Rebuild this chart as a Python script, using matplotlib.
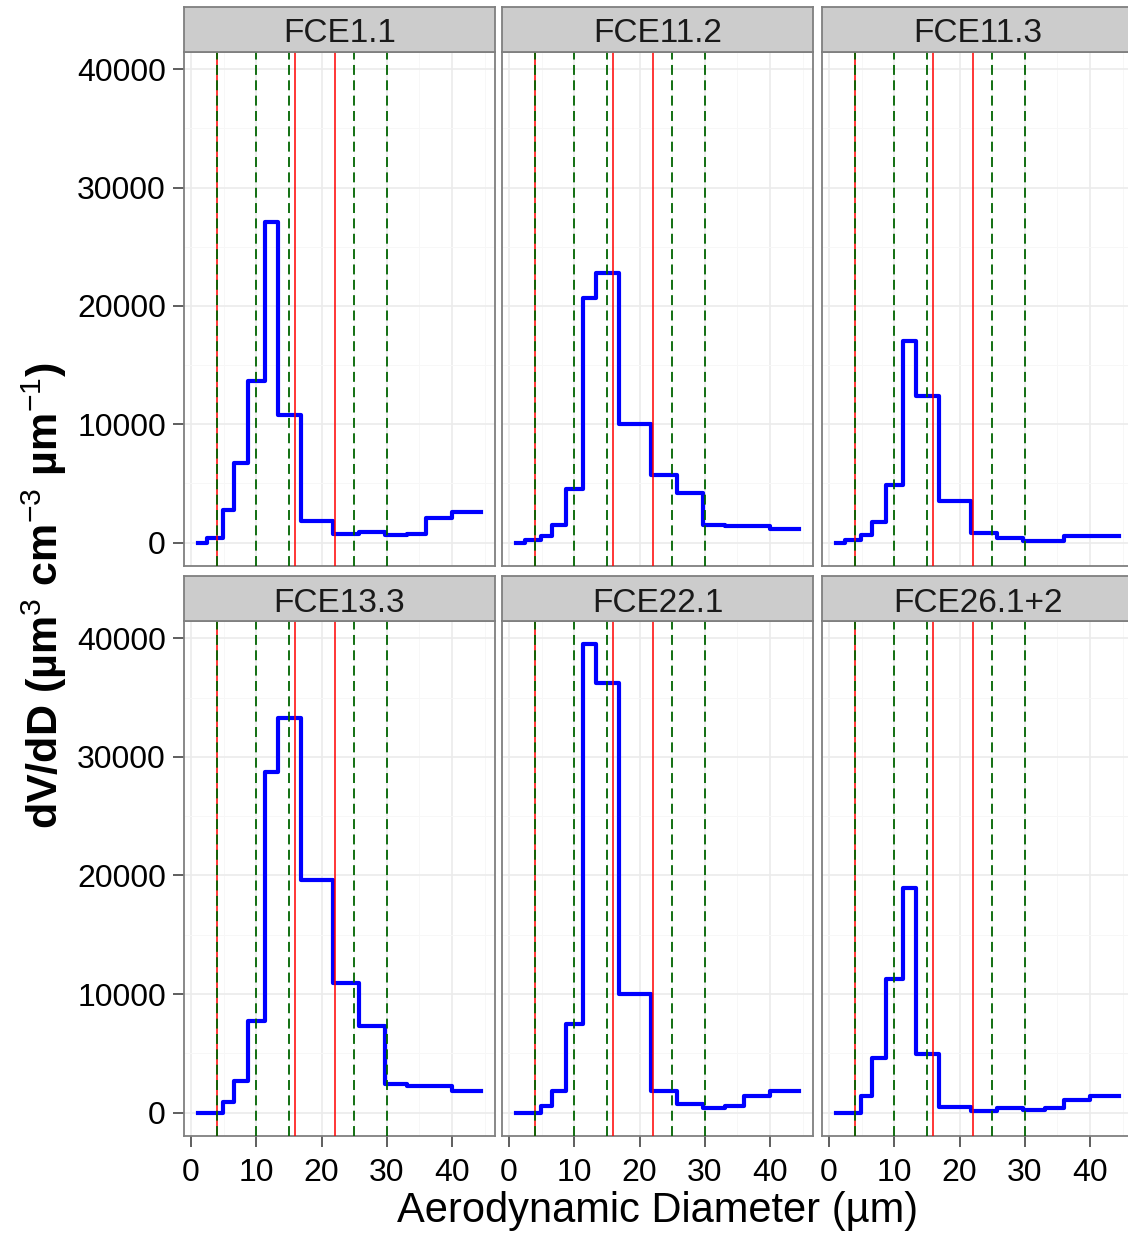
import matplotlib
matplotlib.use("Agg")
import matplotlib.pyplot as plt
import numpy as np

plt.rcParams['font.family'] = ['Liberation Sans', 'DejaVu Sans']
plt.rcParams['mathtext.fontset'] = 'custom'
plt.rcParams['mathtext.rm'] = 'Liberation Sans'
plt.rcParams['mathtext.it'] = 'Liberation Sans:italic'
plt.rcParams['mathtext.bf'] = 'Liberation Sans:bold'

# bin edges (aerodynamic diameter, um)
edges = [1.1, 2.5, 4.85, 6.65, 8.8, 11.3, 13.4, 16.9, 21.8, 25.8, 29.7, 33.1, 36.0, 40.0, 44.4]

samples = ['FCE1.1', 'FCE11.2', 'FCE11.3', 'FCE13.3', 'FCE22.1', 'FCE26.1+2']
fce1_1 = [0, 400, 2750, 6720, 13650, 27100, 10750, 1830, 700, 885, 610, 700, 2050, 2560]
fce11_2 = [0, 210, 550, 1530, 4520, 20670, 22750, 9985, 5740, 4210, 1530, 1370, 1370, 1160]
fce11_3 = [0, 210, 610, 1740, 4890, 17010, 12370, 3510, 855, 400, 150, 150, 580, 580]
fce13_3 = [0, 0, 860, 2700, 7750, 28750, 33260, 19590, 10970, 7300, 2390, 2210, 2210, 1840]
fce22_1 = [0, 0, 520, 1840, 7450, 39480, 36260, 9960, 1840, 705, 370, 520, 1380, 1840]
fce26_12 = [0, 0, 1380, 4600, 11280, 18910, 4900, 460, 150, 400, 215, 400, 1070, 1380]
series = [fce1_1, fce11_2, fce11_3, fce13_3, fce22_1, fce26_12]

red_lines = [4, 16, 22]
green_lines = [4, 10, 15, 25, 30]

W, H = 1128, 1236
fig = plt.figure(figsize=(W / 100, H / 100), dpi=100)

col_left = [184, 502, 822]
col_w = 311
rows = [(7, 52, 566), (576, 621, 1136)]

allv = np.concatenate([np.array(s) for s in series])
ymin, ymax = 0, allv.max()
ypad = 0.05 * (ymax - ymin)
xpad = 0.05 * (edges[-1] - edges[0])

border = '#7F7F7F'
for i, name in enumerate(samples):
    r, c = divmod(i, 3)
    st, sb, pb = rows[r]
    left = col_left[c]
    ax = fig.add_axes([left / W, 1 - pb / H, col_w / W, (pb - sb) / H])
    sax = fig.add_axes([left / W, 1 - sb / H, col_w / W, (sb - st) / H])

    y = list(series[i]) + [series[i][-1]]
    ax.step(edges, y, where='post', color='#0000FF', lw=3.0, zorder=3)
    for xv in red_lines:
        ax.axvline(xv, color='#FF0000', lw=1.1, zorder=4)
    for xv in green_lines:
        ax.axvline(xv, color='#006400', lw=1.3, ls=(0, (5.5, 3)), zorder=5)

    ax.set_xlim(edges[0] - xpad, edges[-1] + xpad)
    ax.set_ylim(ymin - ypad, ymax + ypad)
    ax.set_xticks([0, 10, 20, 30, 40])
    ax.set_xticks([5, 15, 25, 35, 45], minor=True)
    ax.set_yticks([0, 10000, 20000, 30000, 40000])
    ax.set_yticks([5000, 15000, 25000, 35000], minor=True)
    ax.grid(True, which='major', color='#EBEBEB', lw=1.2, zorder=0)
    ax.grid(True, which='minor', color='#F7F7F7', lw=0.7, zorder=0)
    ax.set_axisbelow(True)
    ax.tick_params(which='minor', length=0)
    ax.tick_params(which='major', length=8, width=1.1, color='#333333',
                   labelsize=23, pad=5, labelcolor='black')
    ax.tick_params(axis='x', which='major', pad=8)
    if c != 0:
        ax.tick_params(axis='y', which='major', left=False, labelleft=False)
    if r != 1:
        ax.tick_params(axis='x', which='major', bottom=False, labelbottom=False)
    for sp in ax.spines.values():
        sp.set_color(border)
        sp.set_linewidth(1.3)

    sax.set_facecolor('#CCCCCC')
    sax.set_xticks([])
    sax.set_yticks([])
    for sp in sax.spines.values():
        sp.set_color(border)
        sp.set_linewidth(1.3)
    sax.text(0.5, 0.40, name, ha='center', va='center', fontsize=24,
             color='#1A1A1A', transform=sax.transAxes)

fig.text(658 / W, 1 - 1211 / H, 'Aerodynamic Diameter (µm)', ha='center', va='center',
         fontsize=30)
fig.text(44 / W, 1 - 596 / H, r'dV/dD (µm$^{3}$ cm$^{-3}$ µm$^{-1}$)', ha='center',
         va='center', rotation=90, fontsize=31, fontweight='bold')

fig.savefig('out.png', dpi=100)
